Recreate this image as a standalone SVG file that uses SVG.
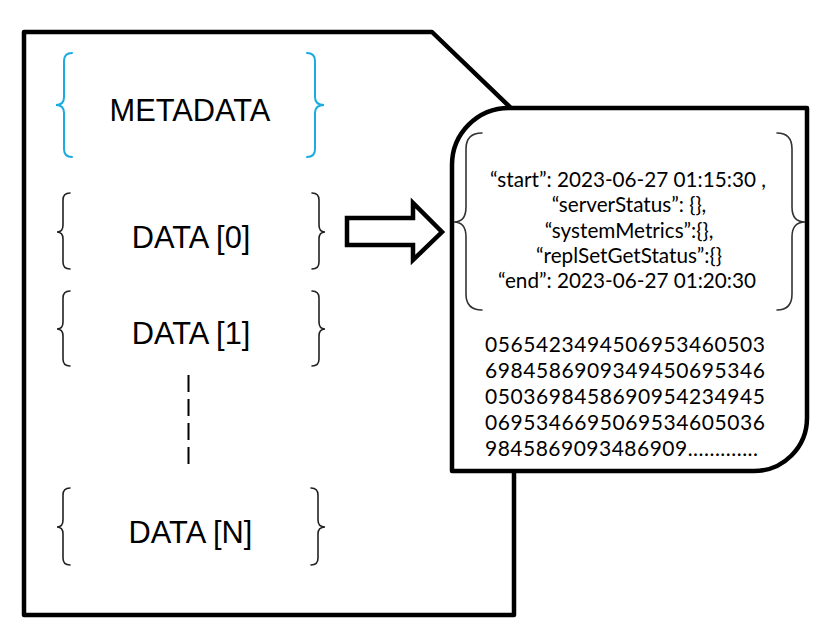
<svg xmlns="http://www.w3.org/2000/svg" width="818" height="641" viewBox="0 0 818 641">
<style>
.outline{fill:#fff;stroke:#000;stroke-width:4.5;stroke-linejoin:round}
.brace{fill:none;stroke:#222;stroke-width:1.6;stroke-linecap:round}
.cyan{stroke:#1aabe2;stroke-width:2}
.gray{stroke:#333;stroke-width:1.6}
.lbl{font-family:"Liberation Sans",Arial,sans-serif;font-size:30.8px;fill:#000;text-anchor:middle}
.json{font-family:Lato,"Open Sans",sans-serif;font-size:20.7px;fill:#000;text-anchor:middle}
.num{font-family:Lato,"Open Sans",sans-serif;font-size:21px;fill:#000}
</style>
<rect width="818" height="641" fill="#fff"/>
<g id="document">
<path class="outline" d="M24,32 H432 L514,111 V615 H24 Z"/>
</g>
<g id="metadata">
<path class="brace cyan" d="M72,53 Q64,53 64,61 V97 Q64,105 56,105 Q64,105 64,113 V149 Q64,157 72,157"/>
<path class="brace cyan" d="M307,53 Q315,53 315,61 V97 Q315,105 324,105 Q315,105 315,113 V149 Q315,157 307,157"/>
<text class="lbl" x="190" y="121">METADATA</text>
</g>
<g id="data0">
<path class="brace" d="M70,193 Q63,193 63,200 V225 Q63,232 57,232 Q63,232 63,239 V262 Q63,269 70,269"/>
<path class="brace" d="M312,193 Q319,193 319,200 V225 Q319,232 325,232 Q319,232 319,239 V262 Q319,269 312,269"/>
<text class="lbl" x="191" y="248">DATA [0]</text>
</g>
<g id="data1">
<path class="brace" d="M70,291 Q63,291 63,298 V322 Q63,329 57,329 Q63,329 63,336 V359 Q63,366 70,366"/>
<path class="brace" d="M312,291 Q319,291 319,298 V322 Q319,329 325,329 Q319,329 319,336 V359 Q319,366 312,366"/>
<text class="lbl" x="191" y="344">DATA [1]</text>
</g>
<g id="dataN">
<path class="brace" d="M70,488 Q63,488 63,495 V520 Q63,527 57,527 Q63,527 63,534 V558 Q63,565 70,565"/>
<path class="brace" d="M311,488 Q318,488 318,495 V520 Q318,527 325,527 Q318,527 318,534 V558 Q318,565 311,565"/>
<text class="lbl" x="190.5" y="543">DATA [N]</text>
</g>
<g id="connectors">
<line x1="188.5" y1="375" x2="188.5" y2="471" stroke="#000" stroke-width="2" stroke-dasharray="17 7"/>
<polygon points="347,218 413,218 413,203 442,232 413,260 413,245 347,245" fill="#fff" stroke="#000" stroke-width="4.5" stroke-linejoin="miter"/>
</g>
<g id="detail">
<path class="outline" d="M452,471 V165 A57,57 0 0 1 509,108 H807 V418 A53,53 0 0 1 754,471 Z"/>
<path class="brace gray" d="M482,133 Q466,133 466,149 V207 Q466,222 454,222 Q466,222 466,237 V294 Q466,310 482,310"/>
<path class="brace gray" d="M777,133 Q792,133 792,149 V207 Q792,222 805,222 Q792,222 792,237 V294 Q792,310 777,310"/>
<text class="json" x="628" y="187">“start”: 2023-06-27 01:15:30 ,</text>
<text class="json" x="629" y="212">“serverStatus”: {},</text>
<text class="json" x="629" y="238">“systemMetrics”:{},</text>
<text class="json" x="629" y="263">“replSetGetStatus”:{}</text>
<text class="json" x="627" y="288">“end”: 2023-06-27 01:20:30</text>
<text class="num" x="485" y="352" textLength="280">0565423494506953460503</text>
<text class="num" x="485" y="378" textLength="280">6984586909349450695346</text>
<text class="num" x="485" y="404" textLength="280">0503698458690954234945</text>
<text class="num" x="485" y="430" textLength="280">0695346695069534605036</text>
<text class="num" x="485" y="456" textLength="273">9845869093486909.............</text>
</g>
</svg>
